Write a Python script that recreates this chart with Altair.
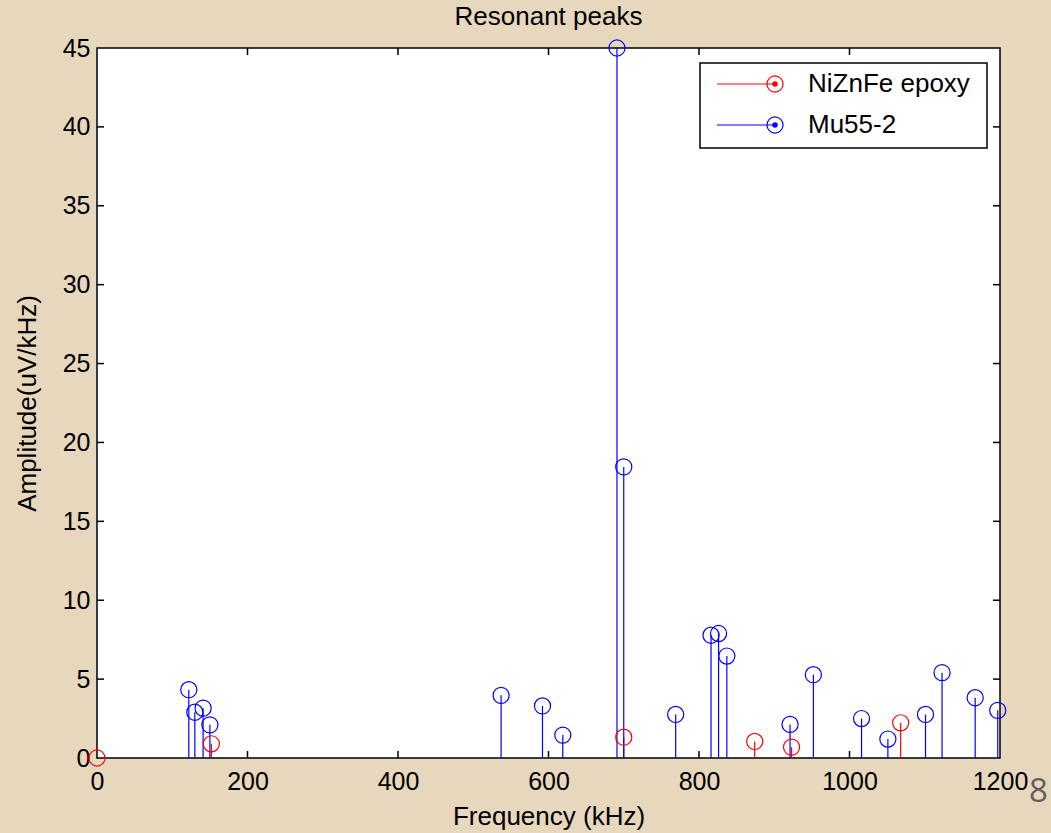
import altair as alt
import pandas as pd

# ---- data ----
blue_freq = [122, 130, 141, 150, 537, 592, 619, 691, 700, 769, 816, 826, 837,
             921, 952, 1016, 1051, 1101, 1123, 1167, 1197]
blue_amp = [4.33, 2.9, 3.16, 2.1, 3.97, 3.3, 1.45, 45.0, 18.45, 2.76, 7.78, 7.89,
            6.46, 2.13, 5.28, 2.5, 1.2, 2.76, 5.41, 3.82, 3.02]
red_freq = [0, 152, 700, 874, 923, 1068]
red_amp = [0.0, 0.9, 1.32, 1.05, 0.69, 2.23]

series_names = ["NiZnFe epoxy", "Mu55-2"]
series_colors = ["#ff0000", "#0000ff"]
x_ticks = [0, 200, 400, 600, 800, 1000, 1200]
y_ticks = [0, 5, 10, 15, 20, 25, 30, 35, 40, 45]

W, H = 903, 710
FONT = "Liberation Sans"
BG = "#e6d7bd"
LBL = 25
TTL = 26

df = pd.concat([
    pd.DataFrame({"freq": red_freq, "amp": red_amp, "series": series_names[0]}),
    pd.DataFrame({"freq": blue_freq, "amp": blue_amp, "series": series_names[1]}),
], ignore_index=True)
df["zero"] = 0.0

xs = alt.Scale(domain=[0, 1200], nice=False, zero=False)
ys = alt.Scale(domain=[0, 45], nice=False)
cs = alt.Scale(domain=series_names, range=series_colors)

xaxis = alt.Axis(values=x_ticks, title="Frequency (kHz)", grid=False, ticks=False,
                 domain=False, labelFontSize=LBL, titleFontSize=TTL, labelPadding=11,
                 titlePadding=9, labelFont=FONT, titleFont=FONT, format="d",
                 labelFlush=False, labelColor="black", titleColor="black",
                 titleFontWeight="normal")
yaxis = alt.Axis(values=y_ticks, title="Amplitude(uV/kHz)", grid=False, ticks=False,
                 domain=False, labelFontSize=LBL, titleFontSize=TTL, labelPadding=7,
                 titlePadding=22, labelFont=FONT, titleFont=FONT, format="d",
                 labelFlush=False, labelColor="black", titleColor="black",
                 titleFontWeight="normal")

base = alt.Chart(df)

stems = base.mark_rule(strokeWidth=1.2).encode(
    x=alt.X("freq:Q", scale=xs, axis=xaxis),
    y=alt.Y("amp:Q", scale=ys, axis=yaxis),
    y2="zero:Q",
    color=alt.Color("series:N", scale=cs, legend=None),
)
heads = base.mark_point(shape="circle", filled=False, size=260, strokeWidth=1.2,
                        clip=False, opacity=1).encode(
    x=alt.X("freq:Q", scale=xs),
    y=alt.Y("amp:Q", scale=ys),
    color=alt.Color("series:N", scale=cs, legend=None),
)

# inward ticks (bottom/top and left/right)
xt = pd.DataFrame({"v": x_ticks[1:-1]})
yt = pd.DataFrame({"v": y_ticks[1:-1]})
tick_b = alt.Chart(xt).mark_rule(color="black", strokeWidth=1.5).encode(
    x=alt.X("v:Q", scale=xs), y=alt.value(H), y2=alt.value(H - 7))
tick_t = alt.Chart(xt).mark_rule(color="black", strokeWidth=1.5).encode(
    x=alt.X("v:Q", scale=xs), y=alt.value(0), y2=alt.value(7))
tick_l = alt.Chart(yt).mark_rule(color="black", strokeWidth=1.5).encode(
    y=alt.Y("v:Q", scale=ys), x=alt.value(0), x2=alt.value(7))
tick_r = alt.Chart(yt).mark_rule(color="black", strokeWidth=1.5).encode(
    y=alt.Y("v:Q", scale=ys), x=alt.value(W), x2=alt.value(W - 7))

# custom MATLAB-style legend
leg_df = pd.DataFrame({"series": series_names})
box = alt.Chart(pd.DataFrame({"a": [0]})).mark_rect(
    fill="white", stroke="black", strokeWidth=1.5).encode(
    x=alt.value(603), x2=alt.value(890), y=alt.value(15), y2=alt.value(100))
legend_layers = []
for name, color, ypos in zip(series_names, series_colors, [36, 77]):
    src = alt.Chart(leg_df).transform_filter(alt.datum.series == name)
    legend_layers += [
        src.mark_rule(strokeWidth=1.2, color=color).encode(
            x=alt.value(620), x2=alt.value(678), y=alt.value(ypos)),
        src.mark_point(shape="circle", filled=False, size=260, strokeWidth=1.2,
                       opacity=1, color=color).encode(
            x=alt.value(678), y=alt.value(ypos)),
        src.mark_point(shape="circle", filled=True, size=30, opacity=1,
                       color=color).encode(x=alt.value(678), y=alt.value(ypos)),
        src.mark_text(align="left", baseline="middle", fontSize=TTL, font=FONT,
                      color="black").encode(
            x=alt.value(711), y=alt.value(ypos), text="series:N"),
    ]

page_no = alt.Chart(pd.DataFrame({"t": ["8"]})).mark_text(
    align="left", baseline="middle", fontSize=33, font="Open Sans",
    color="#5f5f5f").encode(x=alt.value(932), y=alt.value(744), text="t:N")

chart = alt.layer(
    stems, heads, tick_b, tick_t, tick_l, tick_r, box, *legend_layers, page_no,
).properties(
    width=W, height=H,
    title=alt.Title("Resonant peaks", fontSize=TTL, font=FONT, fontWeight="normal",
                    color="black", offset=6, anchor="middle"),
    background=BG,
    padding={"left": 97, "top": 48, "right": 51, "bottom": 75},
    autosize=alt.AutoSizeParams(type="none"),
).configure_view(stroke="black", strokeWidth=1.5, fill="white")

chart.save("out.html", embed_options={"renderer": "svg", "actions": False})
